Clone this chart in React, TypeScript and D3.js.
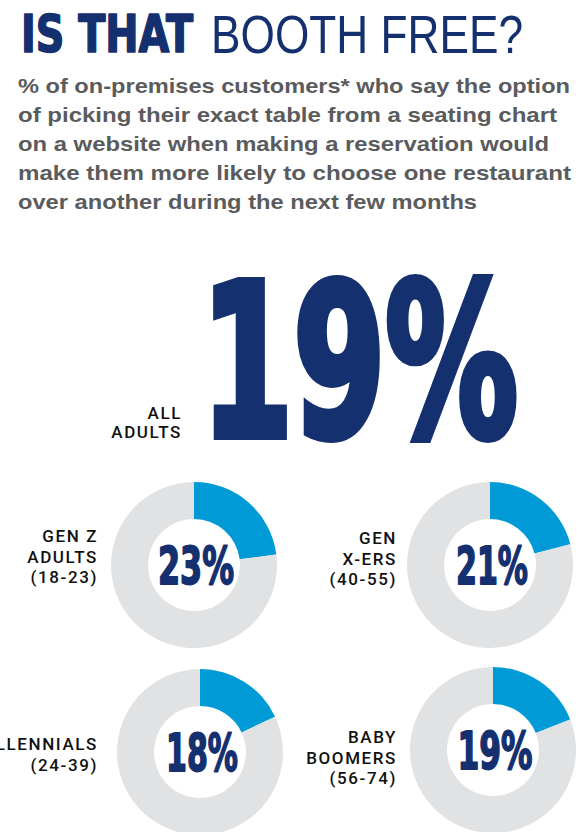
import React from 'react';
import * as d3 from 'd3';

const titleBold = 'IS THAT';
const titleLight = 'BOOTH FREE?';
const subtitleLines = [
  '% of on-premises customers* who say the option',
  'of picking their exact table from a seating chart',
  'on a website when making a reservation would',
  'make them more likely to choose one restaurant',
  'over another during the next few months'
];
const overallLabel = ['ALL', 'ADULTS'];
const overallValue = 19;

const groupLabels = [
  ['GEN Z', 'ADULTS', '(18-23)'],
  ['GEN', 'X-ERS', '(40-55)'],
  ['MILLENNIALS', '(24-39)'],
  ['BABY', 'BOOMERS', '(56-74)']
];
const groupValues = [23, 21, 18, 19];

// layout
const W = 579;
const H = 832;
const NAVY = '#15306f';
const BLUE = '#009bd6';
const RING = '#e1e2e4';
const GREY = '#5a5b5d';
const subWidths = [552, 539, 531, 553, 459];
const donutPos = [
  { cx: 194, cy: 565, lx: 98, ly: 542 },
  { cx: 490, cy: 565, lx: 397, ly: 544 },
  { cx: 200, cy: 752, lx: 98, ly: 750 },
  { cx: 493, cy: 750, lx: 397, ly: 743 }
];
const numWidths = [76, 72, 72, 75];
const narrow = "'Liberation Sans Narrow', 'DejaVu Sans Condensed', 'Liberation Sans', sans-serif";

export default function App() {
  const pie = d3.pie<number>().sort(null).value(d => d);
  const arc = d3.arc<d3.PieArcDatum<number>>().innerRadius(46).outerRadius(83);

  return (
    <svg width={W} height={H} style={{ position: 'absolute', left: 0, top: 0, background: '#fff' }}>
      <text x={21} y={52} fill={NAVY} stroke={NAVY} strokeWidth={1.6} strokeLinejoin="round"
        fontFamily={narrow} fontWeight={700} fontSize={52}
        textLength={172} lengthAdjust="spacingAndGlyphs">{titleBold}</text>
      <text x={211} y={53} fill={NAVY} fontFamily="'Liberation Sans', sans-serif" fontSize={53}
        textLength={312} lengthAdjust="spacingAndGlyphs">{titleLight}</text>

      {subtitleLines.map((line, i) => (
        <text key={i} x={18} y={93 + i * 29} fill={GREY} fontFamily="'Liberation Sans', sans-serif"
          fontWeight={700} fontSize={21} textLength={subWidths[i]} lengthAdjust="spacingAndGlyphs">{line}</text>
      ))}

      {overallLabel.map((l, i) => (
        <text key={i} x={182} y={419 + i * 19} textAnchor="end" fill="#111" fontFamily="Roboto, sans-serif"
          fontWeight={500} fontSize={17} letterSpacing={1.6}>{l}</text>
      ))}
      <text x={201} y={436} fill={NAVY} stroke={NAVY} strokeWidth={8} strokeLinejoin="miter"
        fontFamily={narrow} fontWeight={700} fontSize={212}
        textLength={317} lengthAdjust="spacingAndGlyphs">{overallValue + '%'}</text>

      {groupValues.map((v, i) => {
        const p = donutPos[i];
        const slices = pie([v, 100 - v]);
        return (
          <g key={i}>
            <g transform={`translate(${p.cx},${p.cy})`}>
              {slices.map((s, j) => (
                <path key={j} d={arc(s) || ''} fill={j === 0 ? BLUE : RING} />
              ))}
              <text x={2} y={19} textAnchor="middle" fill={NAVY} stroke={NAVY} strokeWidth={1.8}
                strokeLinejoin="round" fontFamily={narrow} fontWeight={700}
                fontSize={52} textLength={numWidths[i]} lengthAdjust="spacingAndGlyphs">{v + '%'}</text>
            </g>
            {groupLabels[i].map((l, k) => (
              <text key={k} x={p.lx} y={p.ly + k * 20.5} textAnchor="end" fill="#111"
                fontFamily="Roboto, sans-serif" fontWeight={500} fontSize={17} letterSpacing={1.6}>{l}</text>
            ))}
          </g>
        );
      })}
    </svg>
  );
}
